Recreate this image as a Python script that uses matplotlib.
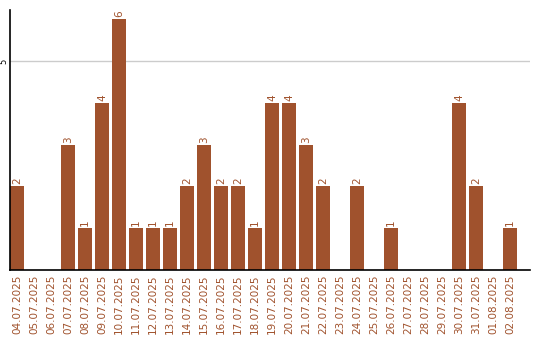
import numpy as np
import matplotlib
matplotlib.use('Agg')
import matplotlib.pyplot as plt

dates = ['04.07.2025', '05.07.2025', '06.07.2025', '07.07.2025', '08.07.2025',
         '09.07.2025', '10.07.2025', '11.07.2025', '12.07.2025', '13.07.2025',
         '14.07.2025', '15.07.2025', '16.07.2025', '17.07.2025', '18.07.2025',
         '19.07.2025', '20.07.2025', '21.07.2025', '22.07.2025', '23.07.2025',
         '24.07.2025', '25.07.2025', '26.07.2025', '27.07.2025', '28.07.2025',
         '29.07.2025', '30.07.2025', '31.07.2025', '01.08.2025', '02.08.2025']
counts = [2, 0, 0, 3, 1, 4, 6, 1, 1, 1, 2, 3, 2, 2, 1,
          4, 4, 3, 2, 0, 2, 0, 1, 0, 0, 0, 4, 2, 0, 1]

brown = '#A0522D'

fig = plt.figure(figsize=(5.4, 3.4), dpi=100)
ax = fig.add_axes([10/540, 70/340, 520/540, 260/340])

x = np.arange(len(dates))
ax.bar(x, counts, width=14/17, align='edge', color=brown, zorder=2)

for xi, c in zip(x, counts):
    if c > 0:
        ax.text(xi + 7/17, c + 0.05, str(c), rotation=90, ha='center', va='bottom',
                color=brown, fontsize=7.5)

ax.set_xlim(0, 520/17)
ax.set_ylim(0, 6.22)
ax.axhline(5, color='#cccccc', lw=1, zorder=1)

ax.set_xticks(x + 7/17)
ax.set_xticklabels(dates, rotation=90, color=brown, fontsize=7.5)
ax.set_yticks([5])
ax.set_yticklabels(['5'], rotation=90, fontsize=6, va='center')
ax.tick_params(axis='x', length=0, pad=3)
ax.tick_params(axis='y', length=0, pad=1)

for s in ['top', 'right']:
    ax.spines[s].set_visible(False)
ax.spines['left'].set_linewidth(1.2)
ax.spines['bottom'].set_linewidth(1.2)

fig.savefig('out.png', dpi=100)
